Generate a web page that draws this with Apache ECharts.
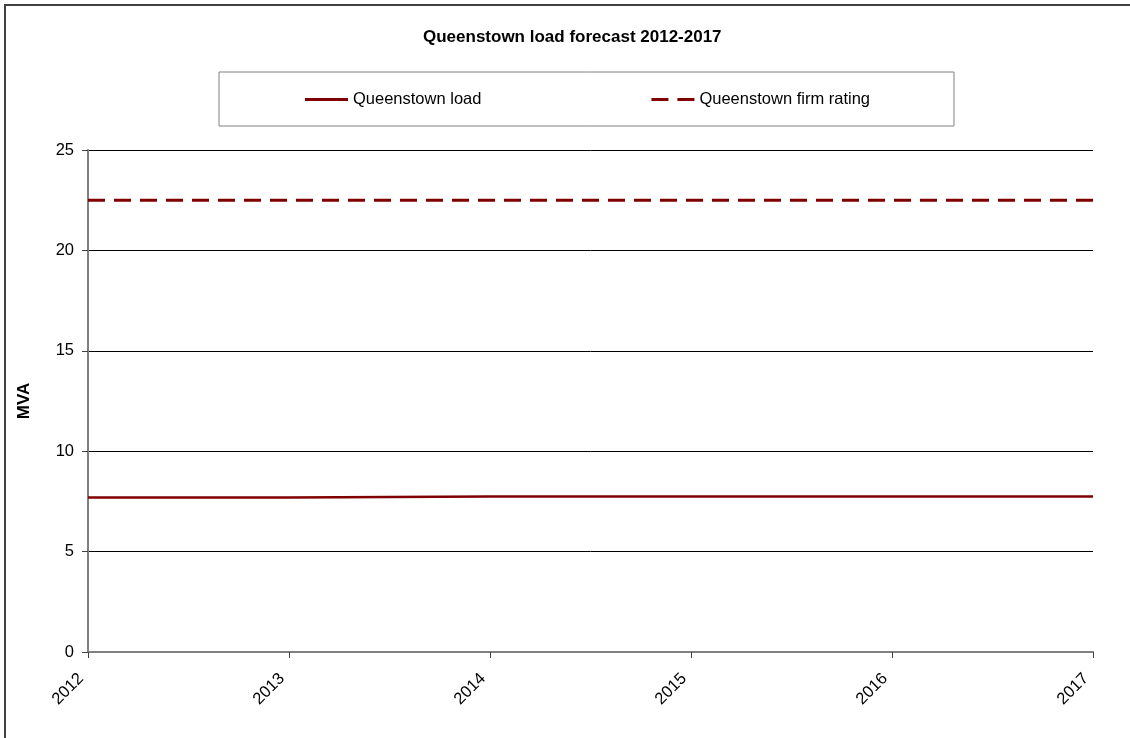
<!DOCTYPE html>
<html>
<head>
<meta charset="utf-8">
<script src="https://cdn.jsdelivr.net/npm/echarts@6/dist/echarts.min.js"></script>
<style>
html,body{margin:0;padding:0;background:#fff;}
#chart{width:1130px;height:738px;}
</style>
</head>
<body>
<div id="chart"></div>
<script>
var years = ['2012', '2013', '2014', '2015', '2016', '2017'];
var loadValues = [7.7, 7.7, 7.75, 7.75, 7.75, 7.75];
var firmRating = [22.5, 22.5, 22.5, 22.5, 22.5, 22.5];
var yTicks = { min: 0, max: 25, interval: 5 };

var chart = echarts.init(document.getElementById('chart'));
var font = 'Liberation Sans, Arial, sans-serif';
chart.setOption({
  animation: false,
  backgroundColor: '#fff',
  textStyle: { fontFamily: font },
  title: {
    text: 'Queenstown load forecast 2012-2017',
    left: 423, top: 29, padding: 0,
    textStyle: { fontFamily: font, fontSize: 17, fontWeight: 'bold', color: '#000' }
  },
  legend: {
    left: 219, top: 72,
    padding: [19, 84, 18, 86],
    borderColor: '#808080', borderWidth: 1,
    itemWidth: 43, itemHeight: 3, itemGap: 170,
    textStyle: { fontFamily: font, fontSize: 16.5, color: '#000' },
    data: [
      { name: 'Queenstown load', icon: 'rect' },
      { name: 'Queenstown firm rating', icon: 'path://M0,0H17V3H0Z M26,0H43V3H26Z' }
    ]
  },
  grid: { left: 88, right: 37, top: 150, bottom: 86 },
  xAxis: {
    type: 'category', data: years, boundaryGap: false,
    axisLine: { lineStyle: { color: '#808080', width: 2 } },
    axisTick: { show: true, length: 6, lineStyle: { color: '#404040', width: 1 } },
    axisLabel: { rotate: 45, margin: 17, padding: [0, 10, 0, 0], color: '#000', fontSize: 16.5, fontFamily: font }
  },
  yAxis: {
    type: 'value', min: yTicks.min, max: yTicks.max, interval: yTicks.interval,
    name: 'MVA', nameLocation: 'middle', nameGap: 55,
    nameTextStyle: { fontFamily: font, fontSize: 17, fontWeight: 'bold', color: '#000' },
    axisLine: { show: true, lineStyle: { color: '#808080', width: 2 } },
    axisTick: { show: true, length: 6, lineStyle: { color: '#404040', width: 1 } },
    axisLabel: { margin: 14, color: '#000', fontSize: 16.5, fontFamily: font },
    splitLine: { show: true, lineStyle: { color: '#000', width: 1 } }
  },
  series: [
    {
      name: 'Queenstown load', type: 'line', data: loadValues,
      symbol: 'none', color: '#800000',
      itemStyle: { color: '#800000' },
      lineStyle: { color: '#800000', width: 2.5 }
    },
    {
      name: 'Queenstown firm rating', type: 'line', data: firmRating,
      symbol: 'none', color: '#800000',
      itemStyle: { color: '#800000' },
      lineStyle: { color: '#800000', width: 3, type: [17, 9] }
    }
  ],
  graphic: [
    { type: 'line', shape: { x1: 5, y1: 4, x2: 5, y2: 738 }, style: { stroke: '#404040', lineWidth: 2 } },
    { type: 'line', shape: { x1: 4, y1: 5, x2: 1130, y2: 5 }, style: { stroke: '#404040', lineWidth: 2 } }
  ]
});
</script>
</body>
</html>
